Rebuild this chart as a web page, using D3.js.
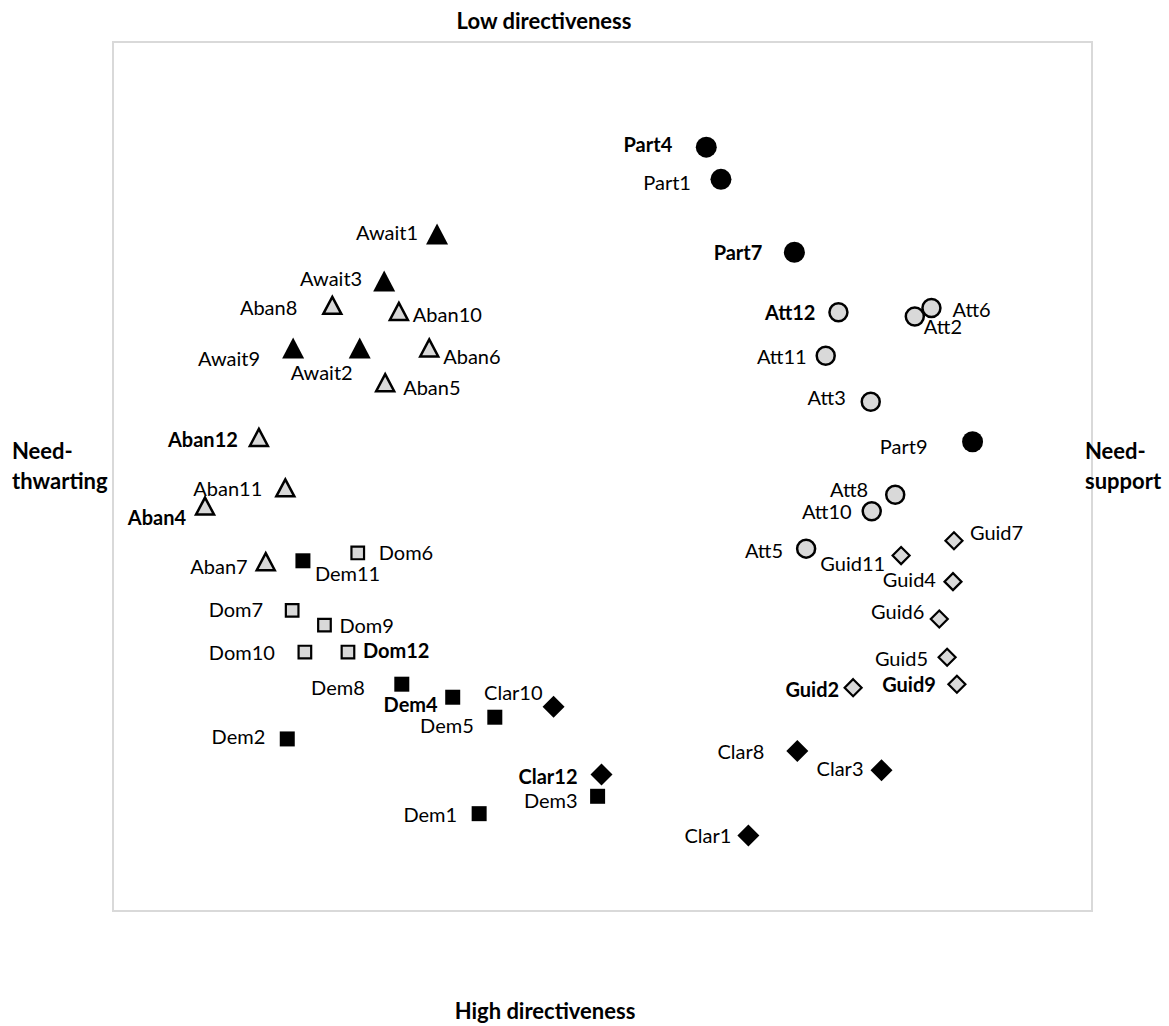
<!DOCTYPE html>
<html>
<head>
<meta charset="utf-8">
<script src="https://cdn.jsdelivr.net/npm/d3@7"></script>
<style>
  body { margin: 0; background: #fff; }
  text { font-family: Lato, "Open Sans", sans-serif; fill: #000; }
</style>
</head>
<body>
<div id="chart"></div>
<script>
"use strict";

// Two MDS dimensions (0..10 on both axes)
var partPoints = [["Part4", 6.06, 8.79], ["Part1", 6.21, 8.42], ["Part7", 6.96, 7.58], ["Part9", 8.78, 5.40]];
var attPoints = [["Att12", 7.41, 6.89], ["Att6", 8.36, 6.94], ["Att2", 8.19, 6.84], ["Att11", 7.28, 6.39],
  ["Att3", 7.74, 5.86], ["Att8", 7.99, 4.79], ["Att10", 7.75, 4.60], ["Att5", 7.08, 4.17]];
var guidPoints = [["Guid7", 8.59, 4.26], ["Guid11", 8.05, 4.09], ["Guid4", 8.58, 3.79], ["Guid6", 8.44, 3.36],
  ["Guid5", 8.52, 2.92], ["Guid2", 7.56, 2.57], ["Guid9", 8.62, 2.61]];
var clarPoints = [["Clar10", 4.50, 2.35], ["Clar12", 4.99, 1.57], ["Clar8", 6.99, 1.84], ["Clar3", 7.85, 1.62], ["Clar1", 6.49, 0.87]];
var demPoints = [["Dem11", 1.94, 4.03], ["Dem8", 2.95, 2.61], ["Dem4", 3.47, 2.46], ["Dem5", 3.90, 2.23],
  ["Dem2", 1.78, 1.98], ["Dem3", 4.95, 1.32], ["Dem1", 3.74, 1.12]];
var domPoints = [["Dom6", 2.50, 4.12], ["Dom7", 1.83, 3.46], ["Dom9", 2.16, 3.29], ["Dom10", 1.96, 2.98], ["Dom12", 2.40, 2.98]];
var awaitPoints = [["Await1", 3.31, 7.79], ["Await3", 2.77, 7.25], ["Await9", 1.84, 6.48], ["Await2", 2.52, 6.48]];
var abanPoints = [["Aban8", 2.24, 6.97], ["Aban10", 2.92, 6.90], ["Aban6", 3.23, 6.48], ["Aban5", 2.78, 6.08],
  ["Aban12", 1.49, 5.45], ["Aban11", 1.76, 4.87], ["Aban4", 0.94, 4.66], ["Aban7", 1.56, 4.02]];

var boldNames = ["Part4", "Part7", "Att12", "Guid2", "Guid9", "Clar12", "Dem4", "Dom12", "Aban12", "Aban4"];

var axisTitles = { top: "Low directiveness", bottom: "High directiveness", left: ["Need-", "thwarting"], right: ["Need-", "support"] };

// label placement: anchor, dx, dy from the marker centre
var labelPlace = {
  Part4: ["end", -34, -2], Part1: ["end", -30, 4], Part7: ["end", -32, 1], Part9: ["end", -45, 5],
  Att12: ["end", -23, 1], Att6: ["start", 21, 2], Att2: ["start", 9, 10], Att11: ["end", -19, 1],
  Att3: ["end", -25, -4], Att8: ["end", -27, -5], Att10: ["end", -20, 1], Att5: ["end", -23, 2],
  Guid7: ["start", 16, -8], Guid11: ["end", -16, 8], Guid4: ["end", -17, -2], Guid6: ["end", -15, -7],
  Guid5: ["end", -19, 2], Guid2: ["end", -14, 2], Guid9: ["end", -21, 1],
  Clar10: ["end", -11, -14], Clar12: ["end", -24, 2], Clar8: ["end", -33, 1], Clar3: ["end", -18, -1], Clar1: ["end", -17, 1],
  Dem11: ["start", 12, 13], Dem8: ["end", -37, 4], Dem4: ["end", -15, 8], Dem5: ["end", -21, 9],
  Dem2: ["end", -22, -2], Dem3: ["end", -20, 5], Dem1: ["end", -22, 1],
  Dom6: ["start", 21, 0], Dom7: ["end", -29, 0], Dom9: ["start", 15, 1], Dom10: ["end", -30, 1], Dom12: ["start", 15, -1],
  Await1: ["end", -19, -1], Await3: ["end", -22, -2], Await9: ["end", -33, 11], Await2: ["end", -7, 25],
  Aban8: ["end", -35, 3], Aban10: ["start", 14, 4], Aban6: ["start", 14, 9], Aban5: ["start", 18, 5],
  Aban12: ["end", -21, 3], Aban11: ["end", -23, 1], Aban4: ["end", -19, 12], Aban7: ["end", -18, 5]
};

var series = [
  { points: partPoints, shape: "circle", filled: true },
  { points: attPoints, shape: "circle", filled: false },
  { points: guidPoints, shape: "diamond", filled: false },
  { points: clarPoints, shape: "diamond", filled: true },
  { points: demPoints, shape: "square", filled: true },
  { points: domPoints, shape: "square", filled: false },
  { points: awaitPoints, shape: "triangle", filled: true },
  { points: abanPoints, shape: "triangle", filled: false }
];

var width = 1169;
var height = 1026;
var frame = { left: 113, right: 1092, top: 42, bottom: 911 };
var labelSize = 20;
var titleSize = 22;

var x = d3.scaleLinear().domain([0, 10]).range([frame.left, frame.right]);
var y = d3.scaleLinear().domain([0, 10]).range([frame.bottom, frame.top]);

// outline for each marker; gray ones are a bit smaller because of their stroke
var shapePath = function(shape, filled) {
  var p = d3.path();
  if (shape === "circle") {
    var r = filled ? 10.5 : 9;
    p.arc(0, 0, r, 0, 2 * Math.PI);
  } else if (shape === "square") {
    var s = filled ? 7.5 : 6.3;
    p.rect(-s, -s, 2 * s, 2 * s);
  } else if (shape === "diamond") {
    var d = filled ? 11 : 8.5;
    p.moveTo(0, -d); p.lineTo(d, 0); p.lineTo(0, d); p.lineTo(-d, 0);
  } else {
    var hw = filled ? 11 : 9;
    var hh = filled ? 10.5 : 8.5;
    p.moveTo(0, -hh); p.lineTo(hw, hh); p.lineTo(-hw, hh);
  }
  p.closePath();
  return p.toString();
};

var svg = d3.select("#chart").append("svg")
  .attr("width", width)
  .attr("height", height);

svg.append("rect")
  .attr("x", frame.left)
  .attr("y", frame.top)
  .attr("width", frame.right - frame.left)
  .attr("height", frame.bottom - frame.top)
  .attr("fill", "none")
  .attr("stroke", "#d9d9d9")
  .attr("stroke-width", 2);

// axis titles
svg.append("text")
  .attr("x", 544).attr("y", 29)
  .attr("text-anchor", "middle")
  .attr("font-size", titleSize).attr("font-weight", 700)
  .text(axisTitles.top);

svg.append("text")
  .attr("x", 545).attr("y", 1019)
  .attr("text-anchor", "middle")
  .attr("font-size", titleSize).attr("font-weight", 700)
  .text(axisTitles.bottom);

[["left", 12], ["right", 1085]].forEach(function(side) {
  svg.append("text")
    .attr("font-size", titleSize).attr("font-weight", 700)
    .selectAll("tspan")
    .data(axisTitles[side[0]])
    .enter().append("tspan")
    .attr("x", side[1])
    .attr("y", function(d, i) { return 459 + i * 30; })
    .text(function(d) { return d; });
});

series.forEach(function(s) {
  var g = svg.append("g");

  g.selectAll("path")
    .data(s.points)
    .enter().append("path")
    .attr("transform", function(d) { return "translate(" + x(d[1]) + "," + y(d[2]) + ")"; })
    .attr("d", shapePath(s.shape, s.filled))
    .attr("fill", s.filled ? "#000" : "#d9d9d9")
    .attr("stroke", s.filled ? "none" : "#000")
    .attr("stroke-width", s.filled ? 0 : (s.shape === "circle" || s.shape === "triangle" ? 2.5 : 2.2))
    .attr("stroke-linejoin", "miter");

  g.selectAll("text")
    .data(s.points)
    .enter().append("text")
    .attr("x", function(d) { return x(d[1]) + labelPlace[d[0]][1]; })
    .attr("y", function(d) { return y(d[2]) + labelPlace[d[0]][2]; })
    .attr("dy", "0.35em")
    .attr("text-anchor", function(d) { return labelPlace[d[0]][0]; })
    .attr("font-size", labelSize)
    .attr("font-weight", function(d) { return boldNames.indexOf(d[0]) >= 0 ? 700 : 400; })
    .text(function(d) { return d[0]; });
});
</script>
</body>
</html>
